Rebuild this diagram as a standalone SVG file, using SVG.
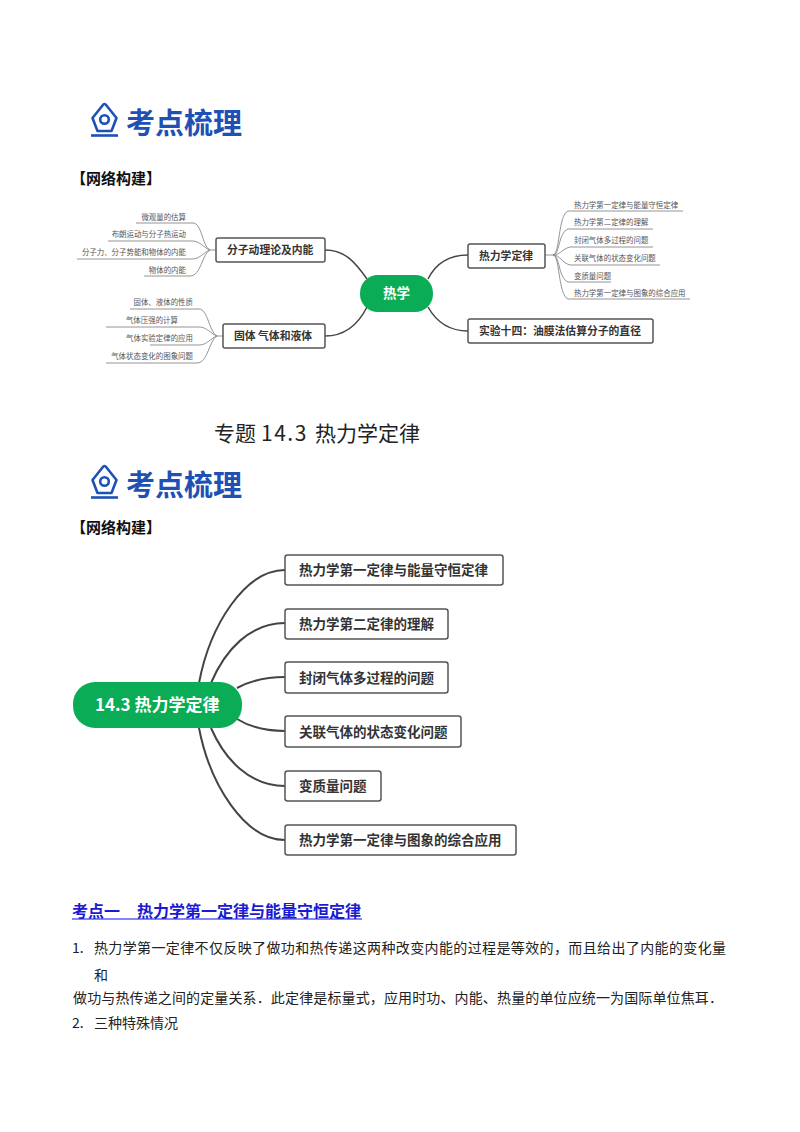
<svg xmlns="http://www.w3.org/2000/svg" width="800" height="1132" viewBox="0 0 800 1132">
<style>
text{font-family:"Noto Sans CJK SC","Noto Sans",sans-serif;fill:#222}
.logo{font-size:29px;font-weight:700;fill:#1f50b4}
.ico{fill:none;stroke:#1f50b4;stroke-width:2.6;stroke-linejoin:round}
.h{font-size:15px;font-weight:700;fill:#111}
.box{fill:#fff;stroke:#555;stroke-width:1.5}
.t1{font-size:10.8px;font-weight:700;fill:#333}
.t2{font-size:13.5px;font-weight:700;fill:#333}
.lf{font-size:7.45px;fill:#555;text-anchor:end}
.lr{font-size:7.45px;fill:#555}
.thin{fill:none;stroke:#888;stroke-width:.9}
.mid{fill:none;stroke:#444;stroke-width:1.5}
.thick{fill:none;stroke:#444;stroke-width:2}
.green{fill:#0aad55}
.w{fill:#fff;font-weight:700}
.b{font-size:14px;fill:#222}
</style>
<defs>
<g id="pen">
<path class="ico" d="M102.500 105.500Q104.500 102.500 106.500 105.500L116.500 118L111.500 131H97.500L92.500 118Z"/>
<circle class="ico" cx="104.500" cy="119.500" r="4.300"/>
<path class="ico" d="M91 135.500H118"/>
</g>
</defs>

<g id="logo-top"><use href="#pen"/><text class="logo" x="126" y="133.500">考点梳理</text></g>
<text class="h" x="71" y="184">【网络构建】</text>

<g id="connectors-top">
<path class="mid" d="M325 250C345 250 355 262 367 279"/>
<path class="mid" d="M325 336C345 336 358 325 367 307"/>
<path class="mid" d="M468 255C450 255 436 263 428 279"/>
<path class="mid" d="M468 331C450 331 437 323 428 307"/>
<path class="thin" d="M136 223H193C202 223 202 246 210 250"/>
<path class="thin" d="M108 241H192C200 241 204 248 210 250"/>
<path class="thin" d="M77 259H192C200 259 204 252 210 250"/>
<path class="thin" d="M144 276H190C201 276 202 254 210 250M210 250H216"/>
<path class="thin" d="M130 309H199C208 309 209 332 217 336"/>
<path class="thin" d="M106 327H199C207 327 211 334 217 336"/>
<path class="thin" d="M150 345H199C207 345 211 338 217 336"/>
<path class="thin" d="M106 363H197C208 363 209 340 217 336M217 336H223"/>
<path class="thin" d="M545 255H553C560 255 558 215 568 211H683"/>
<path class="thin" d="M553 255C560 255 558 233 568 229H653"/>
<path class="thin" d="M553 255C560 255 562 249 570 247H653"/>
<path class="thin" d="M553 255C560 255 562 263 570 265H660"/>
<path class="thin" d="M553 255C560 255 558 278 568 282H611"/>
<path class="thin" d="M553 255C560 255 558 295 568 299H690"/>
</g>

<g id="node-rexue"><rect class="green" x="360" y="275" width="73" height="37" rx="18"/><text class="w" x="383" y="298" font-size="13.500">热学</text></g>
<g id="node-fenzi"><rect class="box" x="216" y="238" width="109" height="24" rx="2"/><text class="t1" x="227" y="254">分子动理论及内能</text></g>
<g id="node-guti"><rect class="box" x="223" y="324" width="102" height="24" rx="2"/><text class="t1" x="234" y="340">固体 气体和液体</text></g>
<g id="node-relixue"><rect class="box" x="468" y="244" width="77" height="24" rx="2"/><text class="t1" x="479" y="260">热力学定律</text></g>
<g id="node-shiyan"><rect class="box" x="468" y="319" width="185" height="24" rx="2"/><text class="t1" x="479" y="335">实验十四：油膜法估算分子的直径</text></g>

<g id="leaves-left">
<text class="lf" x="186" y="220">微观量的估算</text>
<text class="lf" x="186" y="237">布朗运动与分子热运动</text>
<text class="lf" x="186" y="255">分子力、分子势能和物体的内能</text>
<text class="lf" x="186" y="273">物体的内能</text>
<text class="lf" x="193" y="305">固体、液体的性质</text>
<text class="lf" x="178" y="323">气体压强的计算</text>
<text class="lf" x="193" y="341">气体实验定律的应用</text>
<text class="lf" x="193" y="359">气体状态变化的图象问题</text>
</g>
<g id="leaves-right">
<text class="lr" x="574" y="207.500">热力学第一定律与能量守恒定律</text>
<text class="lr" x="574" y="225">热力学第二定律的理解</text>
<text class="lr" x="574" y="243">封闭气体多过程的问题</text>
<text class="lr" x="574" y="261">关联气体的状态变化问题</text>
<text class="lr" x="574" y="279">变质量问题</text>
<text class="lr" x="574" y="296">热力学第一定律与图象的综合应用</text>
</g>

<text id="title" x="214" y="441" font-size="21" fill="#222">专题<tspan x="261" letter-spacing="1.500" font-weight="400">14.3</tspan><tspan x="315">热力学定律</tspan></text>

<g id="logo-second" transform="translate(0 362)"><use href="#pen"/><text class="logo" x="126" y="133.500">考点梳理</text></g>
<text class="h" x="71" y="533">【网络构建】</text>

<g id="connectors-bottom">
<path class="thick" d="M199 683C210 625 245 570 285 570"/>
<path class="thick" d="M211 683C225 650 250 623 285 623"/>
<path class="thick" d="M237 688C250 681 265 677 285 677"/>
<path class="thick" d="M237 719C250 727 265 731 285 731"/>
<path class="thick" d="M211 728C225 760 250 786 285 786"/>
<path class="thick" d="M199 728C210 785 245 840 285 840"/>
</g>

<g id="node-center"><rect class="green" x="73" y="682" width="169" height="46" rx="22"/><text class="w" x="95" y="711" font-size="17">14.3 热力学定律</text></g>
<g id="node-1"><rect class="box" x="285" y="555" width="218" height="30" rx="2.500"/><text class="t2" x="299" y="575">热力学第一定律与能量守恒定律</text></g>
<g id="node-2"><rect class="box" x="285" y="609" width="163" height="30" rx="2.500"/><text class="t2" x="299" y="629">热力学第二定律的理解</text></g>
<g id="node-3"><rect class="box" x="285" y="662" width="163" height="31" rx="2.500"/><text class="t2" x="299" y="683">封闭气体多过程的问题</text></g>
<g id="node-4"><rect class="box" x="285" y="716" width="176" height="31" rx="2.500"/><text class="t2" x="299" y="737">关联气体的状态变化问题</text></g>
<g id="node-5"><rect class="box" x="285" y="771" width="96" height="30" rx="2.500"/><text class="t2" x="299" y="791">变质量问题</text></g>
<g id="node-6"><rect class="box" x="285" y="825" width="231" height="30" rx="2.500"/><text class="t2" x="299" y="845">热力学第一定律与图象的综合应用</text></g>

<path d="M72 919H362" stroke="#5a5aff" stroke-width="1.600" fill="none"/>
<text x="72" y="917" font-size="16" font-weight="700" style="fill:#1a1ad0">考点一<tspan x="137">热力学第一定律与能量守恒定律</tspan></text>
<text class="b" x="72" y="953">1.</text>
<text class="b" x="94" y="953" textLength="632" lengthAdjust="spacing">热力学第一定律不仅反映了做功和热传递这两种改变内能的过程是等效的，而且给出了内能的变化量</text>
<text class="b" x="94" y="980">和</text>
<text class="b" x="73" y="1003" textLength="650" lengthAdjust="spacing">做功与热传递之间的定量关系．此定律是标量式，应用时功、内能、热量的单位应统一为国际单位焦耳．</text>
<text class="b" x="72" y="1028">2.</text>
<text class="b" x="94" y="1028">三种特殊情况</text>
</svg>
